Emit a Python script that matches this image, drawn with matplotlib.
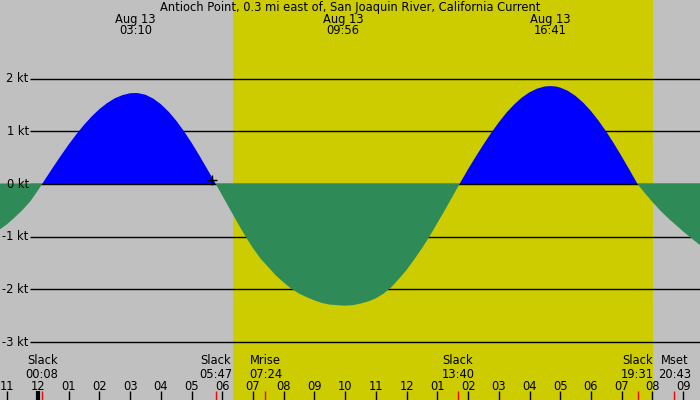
import matplotlib
matplotlib.use("Agg")
import matplotlib.pyplot as plt
import numpy as np

# ---- data (hours after midnight Aug 13, knots) ----
times = [-1.237, -1.0, -0.75, -0.5, -0.25, 0.0, 0.133,
         0.25, 0.5, 0.75, 1.0, 1.25, 1.5, 1.75, 2.0, 2.25, 2.5, 2.75, 3.0, 3.167,
         3.25, 3.5, 3.75, 4.0, 4.25, 4.5, 4.75, 5.0, 5.25, 5.5, 5.79,
         6.0, 6.25, 6.5, 6.75, 7.0, 7.25, 7.5, 7.75, 8.0, 8.25, 8.5, 8.75,
         9.0, 9.25, 9.5, 9.75, 10.0, 10.25, 10.5, 10.75, 11.0, 11.25, 11.5, 11.75,
         12.0, 12.25, 12.5, 12.75, 13.0, 13.25, 13.5, 13.72,
         13.85, 14.0, 14.25, 14.5, 14.75, 15.0, 15.25, 15.5, 15.75, 16.0, 16.25,
         16.5, 16.683, 16.85, 17.0, 17.25, 17.5, 17.75, 18.0, 18.25, 18.5, 18.75,
         19.0, 19.25, 19.517,
         19.75, 20.0, 20.25, 20.57, 20.75, 21.0, 21.25, 21.55]
speeds = [-0.86, -0.76, -0.63, -0.49, -0.33, -0.12, 0.0,
          0.105, 0.327, 0.543, 0.751, 0.945, 1.125, 1.284, 1.423, 1.537, 1.628, 1.688, 1.724, 1.728,
          1.726, 1.695, 1.623, 1.516, 1.375, 1.204, 1.004, 0.783, 0.544, 0.293, 0.0,
          -0.22, -0.48, -0.74, -0.99, -1.22, -1.42, -1.58, -1.74, -1.87, -1.99, -2.08, -2.15,
          -2.21, -2.26, -2.29, -2.30, -2.31, -2.30, -2.27, -2.23, -2.17, -2.08, -1.96, -1.80,
          -1.63, -1.43, -1.22, -0.99, -0.74, -0.49, -0.23, 0.0,
          0.13, 0.28, 0.52, 0.75, 0.97, 1.17, 1.355, 1.51, 1.641, 1.742, 1.812,
          1.852, 1.86, 1.852, 1.831, 1.769, 1.672, 1.544, 1.386, 1.201, 0.994, 0.767,
          0.526, 0.274, 0.0,
          -0.17, -0.34, -0.50, -0.68, -0.77, -0.90, -1.02, -1.16]

title = "Antioch Point, 0.3 mi east of, San Joaquin River, California Current"
kt_levels = [2, 1, 0, -1, -2, -3]
kt_labels = ["2 kt", "1 kt", "0 kt", "-1 kt", "-2 kt", "-3 kt"]
hour_ticks = list(range(-1, 22))
hour_labels = ["11", "12", "01", "02", "03", "04", "05", "06", "07", "08", "09", "10",
               "11", "12", "01", "02", "03", "04", "05", "06", "07", "08", "09"]
peak_times = [3.167, 9.933, 16.683]
peak_dates = ["Aug 13", "Aug 13", "Aug 13"]
peak_labels = ["03:10", "09:56", "16:41"]
event_times = [0.133, 5.783, 7.4, 13.667, 19.517, 20.717]
event_names = ["Slack", "Slack", "Mrise", "Slack", "Slack", "Mset"]
event_labels = ["00:08", "05:47", "07:24", "13:40", "19:31", "20:43"]
sunrise, sunset = 6.35, 20.02
now_time, now_speed = 5.664, 0.076

t = np.array(times)
v = np.array(speeds)
FS = 8.3

fig = plt.figure(figsize=(7, 4), dpi=100)
ax = fig.add_axes([0, 0, 1, 1])
ax.set_xlim(-1.237, 21.55)
ax.set_ylim(-4.101, 3.494)
ax.set_facecolor("#c0c0c0")
for s in ax.spines.values():
    s.set_visible(False)
ax.set_xticks([])
ax.set_yticks([])

ax.axvspan(sunrise, sunset, color="#cccc00", zorder=0, lw=0)

xline0 = -0.26
for lev, lab in zip(kt_levels, kt_labels):
    if lev != 0:
        ax.hlines(lev, xline0, 21.55, color="black", lw=1, zorder=1)
    ax.text(0.041, lev, lab, transform=ax.get_yaxis_transform(), ha="right",
            va="center", fontsize=FS, color="black", zorder=6)

ax.fill_between(t, 0, v, where=v >= 0, interpolate=True, color="#0000ff", lw=0, zorder=2)
ax.hlines(0, xline0, 21.55, color="black", lw=1, zorder=2.5)
ax.fill_between(t, 0.01, v, where=v <= 0, interpolate=True, color="#2e8b57", lw=0, zorder=3)

ax.plot([now_time], [now_speed], marker="+", color="black", ms=7, mew=1, zorder=4)

xt = ax.get_xaxis_transform()
ax.text(0.5, 0.9825, title, transform=ax.transAxes, ha="center", va="center", fontsize=FS)
for pt, d, lab in zip(peak_times, peak_dates, peak_labels):
    ax.text(pt, 0.9525, d, transform=xt, ha="center", va="center", fontsize=FS)
    ax.text(pt, 0.9225, lab, transform=xt, ha="center", va="center", fontsize=FS)

for et, nm, lab in zip(event_times, event_names, event_labels):
    ax.text(et, 0.0975, nm, transform=xt, ha="center", va="center", fontsize=FS)
    ax.text(et, 0.065, lab, transform=xt, ha="center", va="center", fontsize=FS)
    ax.vlines(et, 0, 0.0225, transform=xt, color="red", lw=1, zorder=5)

for ht, hl in zip(hour_ticks, hour_labels):
    ax.text(ht, 0.035, hl, transform=xt, ha="center", va="center", fontsize=FS)
    ax.vlines(ht, 0, 0.0225, transform=xt, color="black", lw=3 if ht == 0 else 1, zorder=5)

fig.savefig("out.png", dpi=100)
